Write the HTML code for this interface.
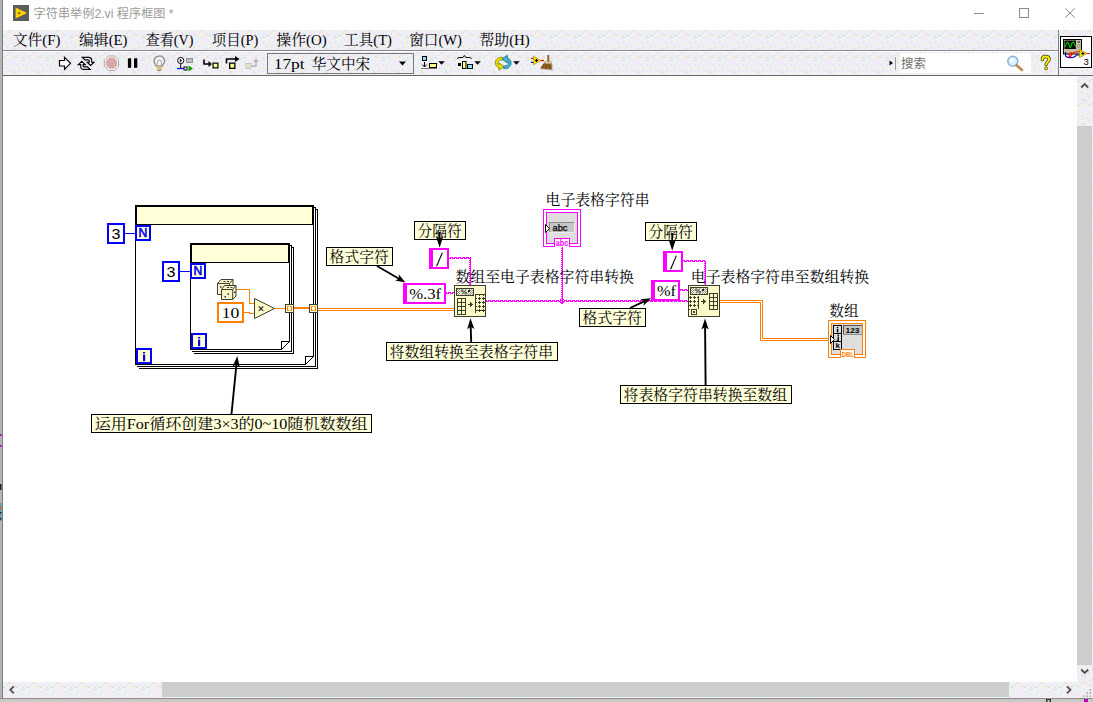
<!DOCTYPE html>
<html><head><meta charset="utf-8"><title>LabVIEW block diagram</title>
<style>
html,body{margin:0;padding:0;background:#fff;}
body{width:1093px;height:702px;position:relative;overflow:hidden;font-family:"Liberation Sans",sans-serif;}
div{position:absolute;box-sizing:border-box;}
#titlebar{left:0;top:0;width:1093px;height:30px;background:#fff;}
#menubar{left:3px;top:30px;width:1055px;height:20px;}
#sep1{left:3px;top:50px;width:1055px;height:1px;background:#8a8a8a;}
#sep1b{left:3px;top:51px;width:1055px;height:1px;background:#fff;}
#toolbar{left:3px;top:52px;width:1055px;height:23px;}
#iconpane{left:1059px;top:30px;width:34px;height:45px;}
#vsep{left:1058px;top:30px;width:1px;height:45px;background:#808080;}
#tbline{left:0;top:75px;width:1093px;height:1px;background:#686868;}
#canvas{left:3px;top:76px;width:1074px;height:606px;background:#fff;}
#lb0{left:0;top:0;width:2px;height:702px;background:#b4b4b4;}
#lb1{left:2px;top:0;width:1px;height:702px;background:#7c7c7c;}
#vscroll{left:1077px;top:76px;width:16px;height:605px;}
#vthumb{left:1077px;top:126px;width:15px;height:539px;background:#cdcdcd;}
#hscroll{left:3px;top:682px;width:1074px;height:16px;}
#hthumb{left:162px;top:682px;width:847px;height:15px;background:#cdcdcd;}
#corner{left:1077px;top:681px;width:16px;height:17px;}
#bot0{left:0;top:698px;width:1093px;height:1px;background:#8c8c8c;}
#bot1{left:0;top:699px;width:1093px;height:3px;background:#c8c8c8;}
.dz{background-color:#ececfb;}
svg#ov{position:absolute;left:0;top:0;}
svg.bg{position:absolute;left:0;top:0;width:100%;height:100%;}
</style></head><body>
<svg width="0" height="0" style="position:absolute"><defs>
<pattern id="dz" width="24" height="24" patternUnits="userSpaceOnUse"><rect width="24" height="24" fill="#ececfd"/><rect x="0" y="0" width="1" height="1" fill="#e8ffe8"/><rect x="1" y="0" width="1" height="1" fill="#ffe8e8"/><rect x="3" y="0" width="1" height="1" fill="#ffe8e8"/><rect x="5" y="0" width="1" height="1" fill="#d8d8d8"/><rect x="6" y="0" width="1" height="1" fill="#ffe8e8"/><rect x="8" y="0" width="1" height="1" fill="#ffe8e8"/><rect x="10" y="0" width="1" height="1" fill="#ffe8e8"/><rect x="11" y="0" width="1" height="1" fill="#ffe8e8"/><rect x="14" y="0" width="1" height="1" fill="#ffe8e8"/><rect x="15" y="0" width="1" height="1" fill="#e8ffe8"/><rect x="19" y="0" width="1" height="1" fill="#d8d8d8"/><rect x="21" y="0" width="1" height="1" fill="#ffe8e8"/><rect x="23" y="0" width="1" height="1" fill="#e8ffe8"/><rect x="0" y="1" width="1" height="1" fill="#ffe8e8"/><rect x="1" y="1" width="1" height="1" fill="#ffe8e8"/><rect x="2" y="1" width="1" height="1" fill="#e8ffe8"/><rect x="4" y="1" width="1" height="1" fill="#e8ffe8"/><rect x="7" y="1" width="1" height="1" fill="#d8d8d8"/><rect x="9" y="1" width="1" height="1" fill="#ffe8e8"/><rect x="10" y="1" width="1" height="1" fill="#ffe8e8"/><rect x="11" y="1" width="1" height="1" fill="#e8ffe8"/><rect x="14" y="1" width="1" height="1" fill="#e8ffe8"/><rect x="17" y="1" width="1" height="1" fill="#e8ffe8"/><rect x="20" y="1" width="1" height="1" fill="#e8ffe8"/><rect x="1" y="2" width="1" height="1" fill="#e8ffe8"/><rect x="3" y="2" width="1" height="1" fill="#ffe8e8"/><rect x="6" y="2" width="1" height="1" fill="#ffe8e8"/><rect x="8" y="2" width="1" height="1" fill="#ffe8e8"/><rect x="13" y="2" width="1" height="1" fill="#e8ffe8"/><rect x="22" y="2" width="1" height="1" fill="#ffe8e8"/><rect x="3" y="3" width="1" height="1" fill="#e8ffe8"/><rect x="4" y="3" width="1" height="1" fill="#d8d8d8"/><rect x="6" y="3" width="1" height="1" fill="#ffe8e8"/><rect x="8" y="3" width="1" height="1" fill="#ffe8e8"/><rect x="9" y="3" width="1" height="1" fill="#ffe8e8"/><rect x="10" y="3" width="1" height="1" fill="#ffe8e8"/><rect x="12" y="3" width="1" height="1" fill="#ffe8e8"/><rect x="13" y="3" width="1" height="1" fill="#e8ffe8"/><rect x="14" y="3" width="1" height="1" fill="#d8d8d8"/><rect x="16" y="3" width="1" height="1" fill="#ffe8e8"/><rect x="22" y="3" width="1" height="1" fill="#e8ffe8"/><rect x="0" y="4" width="1" height="1" fill="#e8ffe8"/><rect x="3" y="4" width="1" height="1" fill="#ffe8e8"/><rect x="4" y="4" width="1" height="1" fill="#e8ffe8"/><rect x="5" y="4" width="1" height="1" fill="#e8ffe8"/><rect x="6" y="4" width="1" height="1" fill="#e8ffe8"/><rect x="9" y="4" width="1" height="1" fill="#e8ffe8"/><rect x="10" y="4" width="1" height="1" fill="#ffe8e8"/><rect x="12" y="4" width="1" height="1" fill="#d8d8d8"/><rect x="19" y="4" width="1" height="1" fill="#ffe8e8"/><rect x="0" y="5" width="1" height="1" fill="#d8d8d8"/><rect x="1" y="5" width="1" height="1" fill="#d8d8d8"/><rect x="2" y="5" width="1" height="1" fill="#ffe8e8"/><rect x="4" y="5" width="1" height="1" fill="#ffe8e8"/><rect x="5" y="5" width="1" height="1" fill="#ffe8e8"/><rect x="6" y="5" width="1" height="1" fill="#e8ffe8"/><rect x="7" y="5" width="1" height="1" fill="#ffe8e8"/><rect x="8" y="5" width="1" height="1" fill="#e8ffe8"/><rect x="9" y="5" width="1" height="1" fill="#ffe8e8"/><rect x="10" y="5" width="1" height="1" fill="#ffe8e8"/><rect x="11" y="5" width="1" height="1" fill="#ffe8e8"/><rect x="12" y="5" width="1" height="1" fill="#ffe8e8"/><rect x="13" y="5" width="1" height="1" fill="#d8d8d8"/><rect x="14" y="5" width="1" height="1" fill="#ffe8e8"/><rect x="17" y="5" width="1" height="1" fill="#ffe8e8"/><rect x="18" y="5" width="1" height="1" fill="#e8ffe8"/><rect x="19" y="5" width="1" height="1" fill="#e8ffe8"/><rect x="20" y="5" width="1" height="1" fill="#d8d8d8"/><rect x="21" y="5" width="1" height="1" fill="#ffe8e8"/><rect x="2" y="6" width="1" height="1" fill="#ffe8e8"/><rect x="3" y="6" width="1" height="1" fill="#ffe8e8"/><rect x="4" y="6" width="1" height="1" fill="#e8ffe8"/><rect x="5" y="6" width="1" height="1" fill="#e8ffe8"/><rect x="7" y="6" width="1" height="1" fill="#ffe8e8"/><rect x="8" y="6" width="1" height="1" fill="#ffe8e8"/><rect x="11" y="6" width="1" height="1" fill="#ffe8e8"/><rect x="13" y="6" width="1" height="1" fill="#ffe8e8"/><rect x="18" y="6" width="1" height="1" fill="#e8ffe8"/><rect x="19" y="6" width="1" height="1" fill="#d8d8d8"/><rect x="20" y="6" width="1" height="1" fill="#ffe8e8"/><rect x="0" y="7" width="1" height="1" fill="#e8ffe8"/><rect x="1" y="7" width="1" height="1" fill="#e8ffe8"/><rect x="8" y="7" width="1" height="1" fill="#e8ffe8"/><rect x="10" y="7" width="1" height="1" fill="#e8ffe8"/><rect x="11" y="7" width="1" height="1" fill="#ffe8e8"/><rect x="12" y="7" width="1" height="1" fill="#ffe8e8"/><rect x="13" y="7" width="1" height="1" fill="#e8ffe8"/><rect x="14" y="7" width="1" height="1" fill="#e8ffe8"/><rect x="21" y="7" width="1" height="1" fill="#d8d8d8"/><rect x="22" y="7" width="1" height="1" fill="#e8ffe8"/><rect x="23" y="7" width="1" height="1" fill="#e8ffe8"/><rect x="0" y="8" width="1" height="1" fill="#e8ffe8"/><rect x="1" y="8" width="1" height="1" fill="#e8ffe8"/><rect x="8" y="8" width="1" height="1" fill="#ffe8e8"/><rect x="14" y="8" width="1" height="1" fill="#e8ffe8"/><rect x="16" y="8" width="1" height="1" fill="#e8ffe8"/><rect x="19" y="8" width="1" height="1" fill="#d8d8d8"/><rect x="23" y="8" width="1" height="1" fill="#e8ffe8"/><rect x="0" y="9" width="1" height="1" fill="#ffe8e8"/><rect x="1" y="9" width="1" height="1" fill="#ffe8e8"/><rect x="4" y="9" width="1" height="1" fill="#ffe8e8"/><rect x="8" y="9" width="1" height="1" fill="#e8ffe8"/><rect x="10" y="9" width="1" height="1" fill="#ffe8e8"/><rect x="11" y="9" width="1" height="1" fill="#ffe8e8"/><rect x="19" y="9" width="1" height="1" fill="#e8ffe8"/><rect x="20" y="9" width="1" height="1" fill="#e8ffe8"/><rect x="21" y="9" width="1" height="1" fill="#e8ffe8"/><rect x="22" y="9" width="1" height="1" fill="#e8ffe8"/><rect x="0" y="10" width="1" height="1" fill="#e8ffe8"/><rect x="2" y="10" width="1" height="1" fill="#ffe8e8"/><rect x="4" y="10" width="1" height="1" fill="#e8ffe8"/><rect x="13" y="10" width="1" height="1" fill="#ffe8e8"/><rect x="15" y="10" width="1" height="1" fill="#e8ffe8"/><rect x="16" y="10" width="1" height="1" fill="#ffe8e8"/><rect x="18" y="10" width="1" height="1" fill="#e8ffe8"/><rect x="22" y="10" width="1" height="1" fill="#e8ffe8"/><rect x="2" y="11" width="1" height="1" fill="#ffe8e8"/><rect x="4" y="11" width="1" height="1" fill="#e8ffe8"/><rect x="5" y="11" width="1" height="1" fill="#e8ffe8"/><rect x="23" y="11" width="1" height="1" fill="#e8ffe8"/><rect x="3" y="12" width="1" height="1" fill="#ffe8e8"/><rect x="4" y="12" width="1" height="1" fill="#ffe8e8"/><rect x="6" y="12" width="1" height="1" fill="#ffe8e8"/><rect x="7" y="12" width="1" height="1" fill="#e8ffe8"/><rect x="8" y="12" width="1" height="1" fill="#ffe8e8"/><rect x="12" y="12" width="1" height="1" fill="#ffe8e8"/><rect x="15" y="12" width="1" height="1" fill="#ffe8e8"/><rect x="18" y="12" width="1" height="1" fill="#e8ffe8"/><rect x="20" y="12" width="1" height="1" fill="#d8d8d8"/><rect x="0" y="13" width="1" height="1" fill="#ffe8e8"/><rect x="3" y="13" width="1" height="1" fill="#e8ffe8"/><rect x="4" y="13" width="1" height="1" fill="#e8ffe8"/><rect x="5" y="13" width="1" height="1" fill="#e8ffe8"/><rect x="7" y="13" width="1" height="1" fill="#ffe8e8"/><rect x="10" y="13" width="1" height="1" fill="#ffe8e8"/><rect x="11" y="13" width="1" height="1" fill="#e8ffe8"/><rect x="14" y="13" width="1" height="1" fill="#ffe8e8"/><rect x="18" y="13" width="1" height="1" fill="#ffe8e8"/><rect x="19" y="13" width="1" height="1" fill="#e8ffe8"/><rect x="20" y="13" width="1" height="1" fill="#ffe8e8"/><rect x="22" y="13" width="1" height="1" fill="#e8ffe8"/><rect x="23" y="13" width="1" height="1" fill="#ffe8e8"/><rect x="3" y="14" width="1" height="1" fill="#e8ffe8"/><rect x="4" y="14" width="1" height="1" fill="#ffe8e8"/><rect x="8" y="14" width="1" height="1" fill="#ffe8e8"/><rect x="9" y="14" width="1" height="1" fill="#ffe8e8"/><rect x="12" y="14" width="1" height="1" fill="#ffe8e8"/><rect x="16" y="14" width="1" height="1" fill="#ffe8e8"/><rect x="18" y="14" width="1" height="1" fill="#ffe8e8"/><rect x="21" y="14" width="1" height="1" fill="#e8ffe8"/><rect x="0" y="15" width="1" height="1" fill="#e8ffe8"/><rect x="1" y="15" width="1" height="1" fill="#ffe8e8"/><rect x="3" y="15" width="1" height="1" fill="#e8ffe8"/><rect x="4" y="15" width="1" height="1" fill="#ffe8e8"/><rect x="5" y="15" width="1" height="1" fill="#ffe8e8"/><rect x="6" y="15" width="1" height="1" fill="#ffe8e8"/><rect x="7" y="15" width="1" height="1" fill="#e8ffe8"/><rect x="8" y="15" width="1" height="1" fill="#e8ffe8"/><rect x="9" y="15" width="1" height="1" fill="#e8ffe8"/><rect x="11" y="15" width="1" height="1" fill="#e8ffe8"/><rect x="13" y="15" width="1" height="1" fill="#e8ffe8"/><rect x="14" y="15" width="1" height="1" fill="#e8ffe8"/><rect x="15" y="15" width="1" height="1" fill="#ffe8e8"/><rect x="16" y="15" width="1" height="1" fill="#e8ffe8"/><rect x="17" y="15" width="1" height="1" fill="#ffe8e8"/><rect x="20" y="15" width="1" height="1" fill="#e8ffe8"/><rect x="23" y="15" width="1" height="1" fill="#ffe8e8"/><rect x="4" y="16" width="1" height="1" fill="#d8d8d8"/><rect x="8" y="16" width="1" height="1" fill="#e8ffe8"/><rect x="13" y="16" width="1" height="1" fill="#e8ffe8"/><rect x="14" y="16" width="1" height="1" fill="#ffe8e8"/><rect x="15" y="16" width="1" height="1" fill="#ffe8e8"/><rect x="16" y="16" width="1" height="1" fill="#ffe8e8"/><rect x="18" y="16" width="1" height="1" fill="#e8ffe8"/><rect x="19" y="16" width="1" height="1" fill="#ffe8e8"/><rect x="20" y="16" width="1" height="1" fill="#ffe8e8"/><rect x="0" y="17" width="1" height="1" fill="#e8ffe8"/><rect x="1" y="17" width="1" height="1" fill="#e8ffe8"/><rect x="2" y="17" width="1" height="1" fill="#e8ffe8"/><rect x="4" y="17" width="1" height="1" fill="#ffe8e8"/><rect x="6" y="17" width="1" height="1" fill="#e8ffe8"/><rect x="10" y="17" width="1" height="1" fill="#e8ffe8"/><rect x="12" y="17" width="1" height="1" fill="#e8ffe8"/><rect x="13" y="17" width="1" height="1" fill="#e8ffe8"/><rect x="14" y="17" width="1" height="1" fill="#ffe8e8"/><rect x="15" y="17" width="1" height="1" fill="#d8d8d8"/><rect x="18" y="17" width="1" height="1" fill="#e8ffe8"/><rect x="20" y="17" width="1" height="1" fill="#ffe8e8"/><rect x="21" y="17" width="1" height="1" fill="#e8ffe8"/><rect x="22" y="17" width="1" height="1" fill="#ffe8e8"/><rect x="23" y="17" width="1" height="1" fill="#d8d8d8"/><rect x="0" y="18" width="1" height="1" fill="#ffe8e8"/><rect x="1" y="18" width="1" height="1" fill="#ffe8e8"/><rect x="2" y="18" width="1" height="1" fill="#e8ffe8"/><rect x="3" y="18" width="1" height="1" fill="#e8ffe8"/><rect x="10" y="18" width="1" height="1" fill="#d8d8d8"/><rect x="11" y="18" width="1" height="1" fill="#e8ffe8"/><rect x="13" y="18" width="1" height="1" fill="#ffe8e8"/><rect x="16" y="18" width="1" height="1" fill="#ffe8e8"/><rect x="22" y="18" width="1" height="1" fill="#ffe8e8"/><rect x="8" y="19" width="1" height="1" fill="#e8ffe8"/><rect x="9" y="19" width="1" height="1" fill="#ffe8e8"/><rect x="10" y="19" width="1" height="1" fill="#ffe8e8"/><rect x="11" y="19" width="1" height="1" fill="#d8d8d8"/><rect x="12" y="19" width="1" height="1" fill="#ffe8e8"/><rect x="19" y="19" width="1" height="1" fill="#ffe8e8"/><rect x="1" y="20" width="1" height="1" fill="#ffe8e8"/><rect x="3" y="20" width="1" height="1" fill="#e8ffe8"/><rect x="4" y="20" width="1" height="1" fill="#ffe8e8"/><rect x="5" y="20" width="1" height="1" fill="#e8ffe8"/><rect x="7" y="20" width="1" height="1" fill="#e8ffe8"/><rect x="11" y="20" width="1" height="1" fill="#d8d8d8"/><rect x="17" y="20" width="1" height="1" fill="#ffe8e8"/><rect x="18" y="20" width="1" height="1" fill="#ffe8e8"/><rect x="19" y="20" width="1" height="1" fill="#e8ffe8"/><rect x="21" y="20" width="1" height="1" fill="#e8ffe8"/><rect x="23" y="20" width="1" height="1" fill="#ffe8e8"/><rect x="0" y="21" width="1" height="1" fill="#ffe8e8"/><rect x="1" y="21" width="1" height="1" fill="#e8ffe8"/><rect x="5" y="21" width="1" height="1" fill="#e8ffe8"/><rect x="9" y="21" width="1" height="1" fill="#ffe8e8"/><rect x="11" y="21" width="1" height="1" fill="#e8ffe8"/><rect x="14" y="21" width="1" height="1" fill="#ffe8e8"/><rect x="19" y="21" width="1" height="1" fill="#e8ffe8"/><rect x="20" y="21" width="1" height="1" fill="#e8ffe8"/><rect x="22" y="21" width="1" height="1" fill="#e8ffe8"/><rect x="0" y="22" width="1" height="1" fill="#ffe8e8"/><rect x="3" y="22" width="1" height="1" fill="#ffe8e8"/><rect x="8" y="22" width="1" height="1" fill="#e8ffe8"/><rect x="11" y="22" width="1" height="1" fill="#ffe8e8"/><rect x="12" y="22" width="1" height="1" fill="#ffe8e8"/><rect x="15" y="22" width="1" height="1" fill="#e8ffe8"/><rect x="16" y="22" width="1" height="1" fill="#ffe8e8"/><rect x="17" y="22" width="1" height="1" fill="#e8ffe8"/><rect x="18" y="22" width="1" height="1" fill="#e8ffe8"/><rect x="20" y="22" width="1" height="1" fill="#ffe8e8"/><rect x="23" y="22" width="1" height="1" fill="#ffe8e8"/><rect x="3" y="23" width="1" height="1" fill="#e8ffe8"/><rect x="4" y="23" width="1" height="1" fill="#d8d8d8"/><rect x="5" y="23" width="1" height="1" fill="#d8d8d8"/><rect x="8" y="23" width="1" height="1" fill="#d8d8d8"/><rect x="10" y="23" width="1" height="1" fill="#e8ffe8"/><rect x="11" y="23" width="1" height="1" fill="#ffe8e8"/><rect x="12" y="23" width="1" height="1" fill="#ffe8e8"/><rect x="14" y="23" width="1" height="1" fill="#e8ffe8"/><rect x="16" y="23" width="1" height="1" fill="#e8ffe8"/><rect x="17" y="23" width="1" height="1" fill="#e8ffe8"/><rect x="19" y="23" width="1" height="1" fill="#e8ffe8"/><rect x="20" y="23" width="1" height="1" fill="#d8d8d8"/></pattern>
</defs></svg>
<div id="titlebar"></div>
<div id="menubar"><svg class="bg" shape-rendering="crispEdges"><rect width="100%" height="100%" fill="url(#dz)"/></svg></div>
<div id="sep1"></div><div id="sep1b"></div>
<div id="toolbar"><svg class="bg" shape-rendering="crispEdges"><rect width="100%" height="100%" fill="url(#dz)"/></svg></div>
<div id="iconpane"><svg class="bg" shape-rendering="crispEdges"><rect width="100%" height="100%" fill="url(#dz)"/></svg></div>
<div id="vsep"></div>
<div id="tbline"></div>
<div id="canvas"></div>
<div id="vscroll"><svg class="bg" shape-rendering="crispEdges"><rect width="100%" height="100%" fill="url(#dz)"/></svg></div>
<div id="vthumb"></div>
<div id="hscroll"><svg class="bg" shape-rendering="crispEdges"><rect width="100%" height="100%" fill="url(#dz)"/></svg></div>
<div id="hthumb"></div>
<div id="corner"><svg class="bg" shape-rendering="crispEdges"><rect width="100%" height="100%" fill="url(#dz)"/></svg></div>
<div id="lb0"></div><div id="lb1"></div>
<div id="bot0"></div><div id="bot1"></div>
<svg id="ov" width="1093" height="702" viewBox="0 0 1093 702">
<rect x="13" y="5" width="16" height="16" fill="#5c5c5c"/>
<path d="M15.600 7.600L27 13 15.600 18.400Z" fill="#ffd400"/>
<path d="M17.700 13h3M19.200 11.500v3" stroke="#6b5a00" stroke-width="0.9" fill="none"/>
<text x="33.6" y="17.6" font-family="'Liberation Sans','Noto Sans CJK SC',sans-serif" font-size="12" fill="#9a9a9a" textLength="140" lengthAdjust="spacingAndGlyphs" xml:space="preserve">字符串举例2.vi 程序框图 *</text>
<line x1="974" y1="13.5" x2="984" y2="13.5" stroke="#8c8c8c" stroke-width="1"/>
<rect x="1019.5" y="8.5" width="9" height="9" fill="none" stroke="#8c8c8c" stroke-width="1"/>
<path d="M1065.3 8.3 L1074.7 17.7 M1074.7 8.3 L1065.3 17.7" stroke="#8c8c8c" stroke-width="1" fill="none"/>
<g font-family="'Liberation Serif','Noto Serif CJK SC',serif" font-size="15" fill="#000">
<text x="12.8" y="44.6" textLength="47.5" lengthAdjust="spacingAndGlyphs">文件(F)</text>
<text x="79.1" y="44.6" textLength="48.4" lengthAdjust="spacingAndGlyphs">编辑(E)</text>
<text x="145.7" y="44.6" textLength="47.7" lengthAdjust="spacingAndGlyphs">查看(V)</text>
<text x="211.8" y="44.6" textLength="46.5" lengthAdjust="spacingAndGlyphs">项目(P)</text>
<text x="276.3" y="44.6" textLength="50.5" lengthAdjust="spacingAndGlyphs">操作(O)</text>
<text x="344.1" y="44.6" textLength="47.9" lengthAdjust="spacingAndGlyphs">工具(T)</text>
<text x="409.3" y="44.6" textLength="52.6" lengthAdjust="spacingAndGlyphs">窗口(W)</text>
<text x="479.4" y="44.6" textLength="50.4" lengthAdjust="spacingAndGlyphs">帮助(H)</text>
</g>
<path d="M59.5 60.5h5v-3.2l6 6-6 6v-3.3h-5z" fill="#fff" stroke="#000" stroke-width="1.15" stroke-linejoin="miter"/>
<g fill="#fff" stroke="#000" stroke-width="1.15" stroke-linejoin="miter"><path d="M82.3 57.4h6.2q3.2 0 3.200 3.200v1.600h2.300l-3.400 3.300-3.400-3.300h2.100v-1.300q0-1-1-1h-3.300z"/><path d="M90.100 69.400h-6.200q-3.200 0-3.200-3.200v-1.600h-2.300l3.400-3.300 3.400 3.300h-2.100v1.300q0 1 1 1h3.300z"/></g>
<path d="M108.5 56h6l4 4.2v6l-4 4.3h-6l-4.2-4.3v-6z" fill="#fafafa" stroke="#a8a8a0" stroke-width="1"/>
<path d="M109.2 57.6h4.6l3.3 3.3v4.6l-3.3 3.3h-4.6l-3.3-3.3v-4.6z" fill="#d9a9a9"/>
<rect x="127.9" y="58.3" width="3.3" height="9.5" fill="#000"/>
<rect x="134" y="58.3" width="3.3" height="9.5" fill="#000"/>
<path d="M159.3 56c-3.2 0-5.3 2.4-5.3 5 0 2.2 1.6 3.4 2.4 5.2h5.8c.8-1.8 2.4-3 2.4-5.2 0-2.6-2.1-5-5.3-5z" fill="#f2f2f2" stroke="#868686" stroke-width="1.250"/>
<path d="M157.200 65.500v-3.300q0-2 2.100-2t2.100 2v3.300" fill="none" stroke="#a4a4a4" stroke-width="1"/>
<rect x="156.6" y="66.4" width="5.4" height="1.3" fill="#d9b95a"/>
<rect x="156.6" y="68.1" width="5.4" height="1.3" fill="#d9b95a"/>
<rect x="157.6" y="69.7" width="3.4" height="1.2" fill="#8a7a3a"/>
<circle cx="180.7" cy="60.5" r="3.1" fill="#fff" stroke="#000" stroke-width="1"/>
<path d="M179.8 58.8v3.4l2.4-1.7z" fill="#000"/>
<line x1="180.7" y1="63.5" x2="180.7" y2="68.5" stroke="#000" stroke-width="1"/>
<rect x="186.5" y="58.5" width="6" height="4" fill="#c0c0c0" stroke="#909090" stroke-width="1"/>
<line x1="177" y1="68.5" x2="184" y2="68.5" stroke="#0000ff" stroke-width="1.2"/>
<rect x="184" y="67" width="3" height="3" fill="#fff" stroke="#000" stroke-width="1"/>
<path d="M188.5 65.5v6l4.5-3z" fill="#00a000"/>
<path d="M204 59.5v4.5h6.5" fill="none" stroke="#000" stroke-width="1.6"/>
<path d="M208.5 61l3.5 3-3.5 3z" fill="#000"/>
<rect x="213.1" y="63.1" width="4.8" height="4.8" fill="#ffff80" stroke="#000" stroke-width="1.2"/>
<path d="M226.5 63.5v-4.5h9.5" fill="none" stroke="#000" stroke-width="1.6"/>
<path d="M235 56l4.5 3-4.5 3z" fill="#000"/>
<rect x="229.65" y="63.15" width="5.2" height="5.2" fill="#ffff80" stroke="#000" stroke-width="1.3"/>
<rect x="246" y="63.5" width="5" height="5" fill="#e4e4c8" stroke="#c8c8b4" stroke-width="1"/>
<path d="M251.5 66h4.500v-5" fill="none" stroke="#b4b4b4" stroke-width="1.4"/>
<path d="M253 62l3-3.5 3 3.5z" fill="#b4b4b4"/>
<rect x="267.5" y="53.5" width="146" height="20" fill="none" stroke="#7a7a7a" stroke-width="1"/>
<text x="273.7" y="68.8" font-family="'Liberation Serif','Noto Serif CJK SC',serif" font-size="14.5" fill="#000" textLength="31" lengthAdjust="spacingAndGlyphs">17pt</text>
<text x="311.7" y="69.2" font-family="'Liberation Serif','Noto Serif CJK SC',serif" font-size="15" fill="#000" textLength="58.5" lengthAdjust="spacingAndGlyphs">华文中宋</text>
<path d="M399 61.5h7l-3.500 4z" fill="#000"/>
<rect x="422.5" y="56.5" width="4" height="4" fill="#80e4f4" stroke="#000" stroke-width="1"/>
<line x1="424.5" y1="62" x2="424.5" y2="67" stroke="#000" stroke-width="1"/>
<path d="M422.3 64.6l2.2 2.400 2.200-2.400" fill="none" stroke="#000" stroke-width="1"/>
<line x1="421.5" y1="68.5" x2="437" y2="68.5" stroke="#000" stroke-width="1" stroke-dasharray="1 1"/>
<rect x="429.5" y="63.5" width="7" height="4" fill="#ffff80" stroke="#000" stroke-width="1"/>
<path d="M438.3 61.200h6.500l-3.250 3.600z" fill="#000"/>
<path d="M457.300 58.800q.3-1.300 2.200-1.300h3.500l1.400-2 1.400 2h3.500q1.900 0 2.200 1.300" fill="none" stroke="#000" stroke-width="1"/>
<rect x="458" y="63" width="3" height="3" fill="#000"/>
<rect x="462.5" y="61.5" width="3.5" height="7" fill="#ffff80" stroke="#000" stroke-width="1"/>
<rect x="467.5" y="64.5" width="5" height="4" fill="#80e4f4" stroke="#000" stroke-width="1"/>
<path d="M474.300 61.200h6.500l-3.250 3.600z" fill="#000"/>
<path d="M502.800 57.300c-4.600-.6-7.500 2.200-7.500 5.600 0 2.400 1.600 4.200 3.800 4.900v2.500l4.800-3.800-4.800-3.600v2.200c-.9-.4-1.300-1.200-1.300-2.200 0-1.900 1.800-3 5-3.100z" fill="#e6e000" stroke="#8c8800" stroke-width=".9" stroke-linejoin="round"/>
<path d="M503.600 68.600c4.600.6 7.500-2.200 7.500-5.600 0-2.400-1.600-4.200-3.800-4.900v-3l-5.300 4 5.300 3.900v-2.200c.9.4 1.300 1.200 1.300 2.200 0 1.900-1.800 3-5 3.100z" fill="#48b4d0" stroke="#1c7c98" stroke-width=".9" stroke-linejoin="round"/>
<path d="M513.200 61.200h6.500l-3.250 3.600z" fill="#000"/>
<line x1="531" y1="58.5" x2="534" y2="58.5" stroke="#f00000" stroke-width="1.2"/>
<line x1="531" y1="62.4" x2="534" y2="62.4" stroke="#0000f0" stroke-width="1.2"/>
<path d="M533.500 56.200l7.700 4.300-7.700 4.300z" fill="#f4e000" stroke="#b09000" stroke-width=".7"/>
<path d="M535 60.500h3M536.500 59v3" stroke="#000" stroke-width="1.100"/>
<line x1="541" y1="60.5" x2="544" y2="60.5" stroke="#f00000" stroke-width="1.2"/>
<path d="M546.500 62.800l6.300 1.200v6.800l-12-1.300z" fill="#b8b8b8" opacity=".8"/>
<rect x="547.3" y="55" width="2" height="7" fill="#9a6420"/>
<path d="M545 61.600h6.500l.4 7.800-11.900-.8z" fill="#946026"/>
<path d="M545.300 61.800h6l.1 1.600h-6.800z" fill="#d8d0c0"/>
<path d="M541.500 68l2.500-3.500M545.500 68.500l1.500-4M549.500 69v-4" stroke="#5c3810" stroke-width=".8" fill="none"/>
<path d="M889.500 60.500v5l3.500-2.500z" fill="#000"/>
<rect x="895" y="57" width="1" height="13" fill="#9a9a9a"/>
<rect x="900" y="53" width="131" height="20" fill="#fff"/>
<text x="901.1" y="68" font-family="'Liberation Sans','Noto Sans CJK SC',sans-serif" font-size="12.5" fill="#6e6e6e" textLength="25" lengthAdjust="spacingAndGlyphs">搜索</text>
<circle cx="1012.800" cy="61.300" r="5" fill="#dceefa" stroke="#8cb4d8" stroke-width="1.500"/>
<circle cx="1011.800" cy="60.200" r="2.300" fill="#fff" opacity=".8"/>
<line x1="1016.6" y1="65.2" x2="1022" y2="70" stroke="#c08a50" stroke-width="2.6" stroke-linecap="round"/>
<path d="M1042.300 59.800c0-2.200 1.400-3.300 3.300-3.300 2 0 3.500 1.100 3.500 2.900 0 2.300-3 2.600-3 5.200" fill="none" stroke="#3c3c00" stroke-width="3.300" stroke-linecap="round"/>
<path d="M1042.300 59.800c0-2.200 1.400-3.300 3.300-3.300 2 0 3.500 1.100 3.500 2.900 0 2.300-3 2.600-3 5.200" fill="none" stroke="#fff000" stroke-width="1.900" stroke-linecap="round"/>
<circle cx="1046.100" cy="68.300" r="1.500" fill="#fff000" stroke="#3c3c00" stroke-width=".7"/>
<rect x="1060.5" y="36.5" width="31" height="31" fill="#fff" stroke="#000" stroke-width="1"/>
<rect x="1063.5" y="39.5" width="18" height="14.5" fill="#c8c0a0" stroke="#000" stroke-width="1"/>
<rect x="1064.5" y="40.5" width="11.5" height="8.5" fill="#000"/>
<path d="M1065.400 47Q1067.300 38.500 1069.200 45.500Q1070.200 49.500 1071.400 45Q1073.200 38.500 1075.600 47" fill="none" stroke="#00d000" stroke-width="1.100"/>
<circle cx="1078.800" cy="46" r="1.300" fill="#f0d8a8" stroke="#666" stroke-width=".6"/>
<rect x="1077.6" y="41" width="2.4" height="2" fill="#666"/>
<path d="M1065.500 52v3c0 3.500 9 3.500 11 0h3.500" fill="none" stroke="#0000c0" stroke-width="1.200"/>
<path d="M1069 56.500c0-3 2-4.500 2.800-3 .8 2-2.800 4.500-2.800 3zM1072 54c1.500-2 3-2.500 8-2.500" fill="none" stroke="#ff0000" stroke-width="1.200"/>
<path d="M1079.500 49.500l7.500 4-7.500 4z" fill="#f0e000" stroke="#a09000" stroke-width=".7"/>
<path d="M1081.300 53.500h3M1082.800 52v3" stroke="#000" stroke-width="1"/>
<line x1="1087" y1="53.5" x2="1090" y2="53.5" stroke="#ff0000" stroke-width="1"/>
<text x="1083.600" y="65" font-family="Liberation Sans, sans-serif" font-size="9.500" fill="#000">3</text>
<g shape-rendering="crispEdges">
<rect x="318" y="308" width="136" height="1" fill="#ff8000"/><rect x="318" y="309" width="136" height="1" fill="#fff"/><rect x="318" y="310" width="136" height="1" fill="#ff8000"/>
<rect x="720" y="300" width="43" height="1" fill="#ff8000"/><rect x="762" y="300" width="1" height="39" fill="#ff8000"/><rect x="762" y="338" width="69" height="1" fill="#ff8000"/>
<rect x="720" y="302" width="41" height="1" fill="#ff8000"/><rect x="760" y="302" width="1" height="39" fill="#ff8000"/><rect x="760" y="340" width="71" height="1" fill="#ff8000"/>
<rect x="720" y="301" width="42" height="1" fill="#fff"/><rect x="761" y="301" width="1" height="39" fill="#fff"/><rect x="761" y="339" width="70" height="1" fill="#fff"/>
<rect x="450" y="257" width="3" height="1" fill="#ff00ff"/><rect x="454" y="257" width="3" height="1" fill="#ff00ff"/><rect x="458" y="257" width="3" height="1" fill="#ff00ff"/><rect x="462" y="257" width="3" height="1" fill="#ff00ff"/><rect x="466" y="257" width="3" height="1" fill="#ff00ff"/><rect x="470" y="257" width="1" height="1" fill="#ff00ff"/><rect x="449" y="258" width="2" height="1" fill="#ff00ff"/><rect x="452" y="258" width="3" height="1" fill="#ff00ff"/><rect x="456" y="258" width="3" height="1" fill="#ff00ff"/><rect x="460" y="258" width="3" height="1" fill="#ff00ff"/><rect x="464" y="258" width="3" height="1" fill="#ff00ff"/><rect x="468" y="258" width="3" height="1" fill="#ff00ff"/>
<rect x="470" y="258" width="1" height="27" fill="#ff00ff"/><rect x="469" y="258" width="1" height="1" fill="#ff00ff"/><rect x="469" y="260" width="1" height="1" fill="#ff00ff"/><rect x="469" y="262" width="1" height="1" fill="#ff00ff"/><rect x="469" y="264" width="1" height="1" fill="#ff00ff"/><rect x="469" y="266" width="1" height="1" fill="#ff00ff"/><rect x="469" y="268" width="1" height="1" fill="#ff00ff"/><rect x="469" y="270" width="1" height="1" fill="#ff00ff"/><rect x="469" y="272" width="1" height="1" fill="#ff00ff"/><rect x="469" y="274" width="1" height="1" fill="#ff00ff"/><rect x="469" y="276" width="1" height="1" fill="#ff00ff"/><rect x="469" y="278" width="1" height="1" fill="#ff00ff"/><rect x="469" y="280" width="1" height="1" fill="#ff00ff"/><rect x="469" y="282" width="1" height="1" fill="#ff00ff"/><rect x="469" y="284" width="1" height="1" fill="#ff00ff"/>
<rect x="446" y="292" width="1" height="1" fill="#ff00ff"/><rect x="448" y="292" width="3" height="1" fill="#ff00ff"/><rect x="452" y="292" width="2" height="1" fill="#ff00ff"/><rect x="446" y="293" width="3" height="1" fill="#ff00ff"/><rect x="450" y="293" width="3" height="1" fill="#ff00ff"/>
<rect x="486" y="300" width="1" height="1" fill="#ff00ff"/><rect x="488" y="300" width="3" height="1" fill="#ff00ff"/><rect x="492" y="300" width="3" height="1" fill="#ff00ff"/><rect x="496" y="300" width="3" height="1" fill="#ff00ff"/><rect x="500" y="300" width="3" height="1" fill="#ff00ff"/><rect x="504" y="300" width="3" height="1" fill="#ff00ff"/><rect x="508" y="300" width="3" height="1" fill="#ff00ff"/><rect x="512" y="300" width="3" height="1" fill="#ff00ff"/><rect x="516" y="300" width="3" height="1" fill="#ff00ff"/><rect x="520" y="300" width="3" height="1" fill="#ff00ff"/><rect x="524" y="300" width="3" height="1" fill="#ff00ff"/><rect x="528" y="300" width="3" height="1" fill="#ff00ff"/><rect x="532" y="300" width="3" height="1" fill="#ff00ff"/><rect x="536" y="300" width="3" height="1" fill="#ff00ff"/><rect x="540" y="300" width="3" height="1" fill="#ff00ff"/><rect x="544" y="300" width="3" height="1" fill="#ff00ff"/><rect x="548" y="300" width="3" height="1" fill="#ff00ff"/><rect x="552" y="300" width="3" height="1" fill="#ff00ff"/><rect x="556" y="300" width="3" height="1" fill="#ff00ff"/><rect x="560" y="300" width="3" height="1" fill="#ff00ff"/><rect x="564" y="300" width="3" height="1" fill="#ff00ff"/><rect x="568" y="300" width="3" height="1" fill="#ff00ff"/><rect x="572" y="300" width="3" height="1" fill="#ff00ff"/><rect x="576" y="300" width="3" height="1" fill="#ff00ff"/><rect x="580" y="300" width="3" height="1" fill="#ff00ff"/><rect x="584" y="300" width="3" height="1" fill="#ff00ff"/><rect x="588" y="300" width="3" height="1" fill="#ff00ff"/><rect x="592" y="300" width="3" height="1" fill="#ff00ff"/><rect x="596" y="300" width="3" height="1" fill="#ff00ff"/><rect x="600" y="300" width="3" height="1" fill="#ff00ff"/><rect x="604" y="300" width="3" height="1" fill="#ff00ff"/><rect x="608" y="300" width="3" height="1" fill="#ff00ff"/><rect x="612" y="300" width="3" height="1" fill="#ff00ff"/><rect x="616" y="300" width="3" height="1" fill="#ff00ff"/><rect x="620" y="300" width="3" height="1" fill="#ff00ff"/><rect x="624" y="300" width="3" height="1" fill="#ff00ff"/><rect x="628" y="300" width="3" height="1" fill="#ff00ff"/><rect x="632" y="300" width="3" height="1" fill="#ff00ff"/><rect x="636" y="300" width="3" height="1" fill="#ff00ff"/><rect x="640" y="300" width="3" height="1" fill="#ff00ff"/><rect x="644" y="300" width="3" height="1" fill="#ff00ff"/><rect x="648" y="300" width="3" height="1" fill="#ff00ff"/><rect x="652" y="300" width="3" height="1" fill="#ff00ff"/><rect x="656" y="300" width="3" height="1" fill="#ff00ff"/><rect x="660" y="300" width="3" height="1" fill="#ff00ff"/><rect x="664" y="300" width="3" height="1" fill="#ff00ff"/><rect x="668" y="300" width="3" height="1" fill="#ff00ff"/><rect x="672" y="300" width="3" height="1" fill="#ff00ff"/><rect x="676" y="300" width="3" height="1" fill="#ff00ff"/><rect x="680" y="300" width="3" height="1" fill="#ff00ff"/><rect x="684" y="300" width="3" height="1" fill="#ff00ff"/><rect x="486" y="301" width="3" height="1" fill="#ff00ff"/><rect x="490" y="301" width="3" height="1" fill="#ff00ff"/><rect x="494" y="301" width="3" height="1" fill="#ff00ff"/><rect x="498" y="301" width="3" height="1" fill="#ff00ff"/><rect x="502" y="301" width="3" height="1" fill="#ff00ff"/><rect x="506" y="301" width="3" height="1" fill="#ff00ff"/><rect x="510" y="301" width="3" height="1" fill="#ff00ff"/><rect x="514" y="301" width="3" height="1" fill="#ff00ff"/><rect x="518" y="301" width="3" height="1" fill="#ff00ff"/><rect x="522" y="301" width="3" height="1" fill="#ff00ff"/><rect x="526" y="301" width="3" height="1" fill="#ff00ff"/><rect x="530" y="301" width="3" height="1" fill="#ff00ff"/><rect x="534" y="301" width="3" height="1" fill="#ff00ff"/><rect x="538" y="301" width="3" height="1" fill="#ff00ff"/><rect x="542" y="301" width="3" height="1" fill="#ff00ff"/><rect x="546" y="301" width="3" height="1" fill="#ff00ff"/><rect x="550" y="301" width="3" height="1" fill="#ff00ff"/><rect x="554" y="301" width="3" height="1" fill="#ff00ff"/><rect x="558" y="301" width="3" height="1" fill="#ff00ff"/><rect x="562" y="301" width="3" height="1" fill="#ff00ff"/><rect x="566" y="301" width="3" height="1" fill="#ff00ff"/><rect x="570" y="301" width="3" height="1" fill="#ff00ff"/><rect x="574" y="301" width="3" height="1" fill="#ff00ff"/><rect x="578" y="301" width="3" height="1" fill="#ff00ff"/><rect x="582" y="301" width="3" height="1" fill="#ff00ff"/><rect x="586" y="301" width="3" height="1" fill="#ff00ff"/><rect x="590" y="301" width="3" height="1" fill="#ff00ff"/><rect x="594" y="301" width="3" height="1" fill="#ff00ff"/><rect x="598" y="301" width="3" height="1" fill="#ff00ff"/><rect x="602" y="301" width="3" height="1" fill="#ff00ff"/><rect x="606" y="301" width="3" height="1" fill="#ff00ff"/><rect x="610" y="301" width="3" height="1" fill="#ff00ff"/><rect x="614" y="301" width="3" height="1" fill="#ff00ff"/><rect x="618" y="301" width="3" height="1" fill="#ff00ff"/><rect x="622" y="301" width="3" height="1" fill="#ff00ff"/><rect x="626" y="301" width="3" height="1" fill="#ff00ff"/><rect x="630" y="301" width="3" height="1" fill="#ff00ff"/><rect x="634" y="301" width="3" height="1" fill="#ff00ff"/><rect x="638" y="301" width="3" height="1" fill="#ff00ff"/><rect x="642" y="301" width="3" height="1" fill="#ff00ff"/><rect x="646" y="301" width="3" height="1" fill="#ff00ff"/><rect x="650" y="301" width="3" height="1" fill="#ff00ff"/><rect x="654" y="301" width="3" height="1" fill="#ff00ff"/><rect x="658" y="301" width="3" height="1" fill="#ff00ff"/><rect x="662" y="301" width="3" height="1" fill="#ff00ff"/><rect x="666" y="301" width="3" height="1" fill="#ff00ff"/><rect x="670" y="301" width="3" height="1" fill="#ff00ff"/><rect x="674" y="301" width="3" height="1" fill="#ff00ff"/><rect x="678" y="301" width="3" height="1" fill="#ff00ff"/><rect x="682" y="301" width="3" height="1" fill="#ff00ff"/><rect x="686" y="301" width="2" height="1" fill="#ff00ff"/>
<rect x="562" y="247" width="1" height="53" fill="#ff00ff"/><rect x="561" y="248" width="1" height="1" fill="#ff00ff"/><rect x="561" y="250" width="1" height="1" fill="#ff00ff"/><rect x="561" y="252" width="1" height="1" fill="#ff00ff"/><rect x="561" y="254" width="1" height="1" fill="#ff00ff"/><rect x="561" y="256" width="1" height="1" fill="#ff00ff"/><rect x="561" y="258" width="1" height="1" fill="#ff00ff"/><rect x="561" y="260" width="1" height="1" fill="#ff00ff"/><rect x="561" y="262" width="1" height="1" fill="#ff00ff"/><rect x="561" y="264" width="1" height="1" fill="#ff00ff"/><rect x="561" y="266" width="1" height="1" fill="#ff00ff"/><rect x="561" y="268" width="1" height="1" fill="#ff00ff"/><rect x="561" y="270" width="1" height="1" fill="#ff00ff"/><rect x="561" y="272" width="1" height="1" fill="#ff00ff"/><rect x="561" y="274" width="1" height="1" fill="#ff00ff"/><rect x="561" y="276" width="1" height="1" fill="#ff00ff"/><rect x="561" y="278" width="1" height="1" fill="#ff00ff"/><rect x="561" y="280" width="1" height="1" fill="#ff00ff"/><rect x="561" y="282" width="1" height="1" fill="#ff00ff"/><rect x="561" y="284" width="1" height="1" fill="#ff00ff"/><rect x="561" y="286" width="1" height="1" fill="#ff00ff"/><rect x="561" y="288" width="1" height="1" fill="#ff00ff"/><rect x="561" y="290" width="1" height="1" fill="#ff00ff"/><rect x="561" y="292" width="1" height="1" fill="#ff00ff"/><rect x="561" y="294" width="1" height="1" fill="#ff00ff"/><rect x="561" y="296" width="1" height="1" fill="#ff00ff"/><rect x="561" y="298" width="1" height="1" fill="#ff00ff"/>
<rect x="560" y="299" width="4" height="4" fill="#ff00ff"/><rect x="561" y="303" width="2" height="1" fill="#ff00ff"/>
<rect x="561" y="299" width="1" height="1" fill="#fff"/><rect x="563" y="300" width="1" height="1" fill="#fff"/><rect x="561" y="301" width="1" height="1" fill="#fff"/>
<rect x="683" y="260" width="2" height="1" fill="#ff00ff"/><rect x="686" y="260" width="3" height="1" fill="#ff00ff"/><rect x="690" y="260" width="3" height="1" fill="#ff00ff"/><rect x="694" y="260" width="3" height="1" fill="#ff00ff"/><rect x="698" y="260" width="3" height="1" fill="#ff00ff"/><rect x="702" y="260" width="3" height="1" fill="#ff00ff"/><rect x="684" y="261" width="3" height="1" fill="#ff00ff"/><rect x="688" y="261" width="3" height="1" fill="#ff00ff"/><rect x="692" y="261" width="3" height="1" fill="#ff00ff"/><rect x="696" y="261" width="3" height="1" fill="#ff00ff"/><rect x="700" y="261" width="3" height="1" fill="#ff00ff"/><rect x="704" y="261" width="2" height="1" fill="#ff00ff"/>
<rect x="705" y="261" width="1" height="24" fill="#ff00ff"/><rect x="704" y="261" width="1" height="1" fill="#ff00ff"/><rect x="704" y="263" width="1" height="1" fill="#ff00ff"/><rect x="704" y="265" width="1" height="1" fill="#ff00ff"/><rect x="704" y="267" width="1" height="1" fill="#ff00ff"/><rect x="704" y="269" width="1" height="1" fill="#ff00ff"/><rect x="704" y="271" width="1" height="1" fill="#ff00ff"/><rect x="704" y="273" width="1" height="1" fill="#ff00ff"/><rect x="704" y="275" width="1" height="1" fill="#ff00ff"/><rect x="704" y="277" width="1" height="1" fill="#ff00ff"/><rect x="704" y="279" width="1" height="1" fill="#ff00ff"/><rect x="704" y="281" width="1" height="1" fill="#ff00ff"/><rect x="704" y="283" width="1" height="1" fill="#ff00ff"/>
<rect x="680" y="289" width="3" height="1" fill="#ff00ff"/><rect x="684" y="289" width="3" height="1" fill="#ff00ff"/><rect x="680" y="290" width="1" height="1" fill="#ff00ff"/><rect x="682" y="290" width="3" height="1" fill="#ff00ff"/><rect x="686" y="290" width="2" height="1" fill="#ff00ff"/>
<rect x="317" y="209" width="1" height="160" fill="#000"/><rect x="139" y="368" width="179" height="1" fill="#000"/><rect x="316" y="209" width="2" height="1" fill="#000"/><rect x="315" y="207" width="1" height="160" fill="#000"/><rect x="137" y="366" width="179" height="1" fill="#000"/><rect x="314" y="207" width="2" height="1" fill="#000"/><rect x="135" y="205" width="179" height="160" fill="#fff"/><rect x="135" y="205" width="179" height="20" fill="#ffffd8"/><rect x="135" y="205" width="179" height="2" fill="#000"/><rect x="135" y="205" width="2" height="20" fill="#000"/><rect x="135" y="205" width="1" height="160" fill="#000"/><rect x="312" y="205" width="2" height="20" fill="#000"/><rect x="135" y="224" width="179" height="1" fill="#000"/><rect x="313" y="205" width="1" height="152" fill="#000"/><rect x="135" y="364" width="171" height="1" fill="#000"/><rect x="305" y="356" width="9" height="1" fill="#000"/><rect x="305" y="356" width="1" height="9" fill="#000"/></g><line x1="313.5" y1="356.5" x2="305.5" y2="364.5" stroke="#000" stroke-width="1"/><g shape-rendering="crispEdges">
<rect x="293" y="247" width="1" height="107" fill="#000"/><rect x="194" y="353" width="100" height="1" fill="#000"/><rect x="292" y="247" width="2" height="1" fill="#000"/><rect x="291" y="245" width="1" height="107" fill="#000"/><rect x="192" y="351" width="100" height="1" fill="#000"/><rect x="290" y="245" width="2" height="1" fill="#000"/><rect x="190" y="243" width="100" height="107" fill="#fff"/><rect x="190" y="243" width="100" height="20" fill="#ffffd8"/><rect x="190" y="243" width="100" height="2" fill="#000"/><rect x="190" y="243" width="2" height="20" fill="#000"/><rect x="190" y="243" width="1" height="107" fill="#000"/><rect x="288" y="243" width="2" height="20" fill="#000"/><rect x="190" y="262" width="100" height="1" fill="#000"/><rect x="289" y="243" width="1" height="99" fill="#000"/><rect x="190" y="349" width="92" height="1" fill="#000"/><rect x="281" y="341" width="9" height="1" fill="#000"/><rect x="281" y="341" width="1" height="9" fill="#000"/></g><line x1="289.5" y1="341.5" x2="281.5" y2="349.5" stroke="#000" stroke-width="1"/><g shape-rendering="crispEdges">
<rect x="108" y="224" width="16" height="19" fill="#fff" stroke="#0000ff" stroke-width="2"/>
<rect x="125" y="233" width="10" height="1" fill="#0000ff"/>
<rect x="136" y="226" width="14" height="14" fill="#ffffd0" stroke="#0000ff" stroke-width="2"/>
<rect x="137" y="349" width="14" height="14" fill="#ffffd0" stroke="#0000ff" stroke-width="2"/>
<rect x="163" y="262" width="16" height="19" fill="#fff" stroke="#0000ff" stroke-width="2"/>
<rect x="180" y="271" width="10" height="1" fill="#0000ff"/>
<rect x="191" y="264" width="14" height="14" fill="#ffffd0" stroke="#0000ff" stroke-width="2"/>
<rect x="192" y="334" width="14" height="14" fill="#ffffd0" stroke="#0000ff" stroke-width="2"/>
<rect x="236" y="289" width="14" height="1" fill="#ff8000"/>
<rect x="249" y="289" width="1" height="15" fill="#ff8000"/>
<rect x="249" y="303" width="6" height="1" fill="#ff8000"/>
<rect x="244" y="312" width="6" height="1" fill="#ff8000"/>
<rect x="249" y="312" width="1" height="2" fill="#ff8000"/>
<rect x="249" y="313" width="6" height="1" fill="#ff8000"/>
<rect x="274" y="308" width="12" height="1" fill="#ff8000"/>
<rect x="294" y="307" width="16" height="2" fill="#ff8000"/>
<rect x="218" y="303" width="25" height="19" fill="#fff" stroke="#ff8000" stroke-width="2"/>
<rect x="285.5" y="304.5" width="8" height="8" fill="#ffffd8" stroke="#3e3e2a" stroke-width="1"/><rect x="287" y="306" width="2" height="5" fill="#ff8000"/><rect x="288" y="307" width="1" height="3" fill="#ffffd8"/><rect x="290" y="306" width="2" height="5" fill="#ff8000"/><rect x="290" y="307" width="1" height="3" fill="#ffffd8"/>
<rect x="309.5" y="304.5" width="8" height="8" fill="#ffffd8" stroke="#3e3e2a" stroke-width="1"/><rect x="311" y="306" width="2" height="5" fill="#ff8000"/><rect x="312" y="307" width="1" height="3" fill="#ffffd8"/><rect x="314" y="306" width="2" height="5" fill="#ff8000"/><rect x="314" y="307" width="1" height="3" fill="#ffffd8"/>
</g>
<g font-family="Liberation Sans, sans-serif" fill="#0000ff" stroke="#0000ff" stroke-width=".55">
<text x="138.6" y="237.400" font-size="12.5" textLength="8.800" lengthAdjust="spacingAndGlyphs">N</text>
<text x="193.6" y="275.400" font-size="12.5" textLength="8.800" lengthAdjust="spacingAndGlyphs">N</text>
</g>
<g fill="#0000ff">
<rect x="143" y="352" width="2.200" height="1.500"/><rect x="143" y="354.4" width="2.200" height="6.800" rx=".6"/>
<rect x="198" y="337" width="2.200" height="1.500"/><rect x="198" y="339.4" width="2.200" height="6.800" rx=".6"/>
</g>
<g font-family="Liberation Sans, sans-serif" fill="#000">
<text x="111.5" y="239.2" font-size="14.5" textLength="9" lengthAdjust="spacingAndGlyphs">3</text>
<text x="166.5" y="277.2" font-size="14.5" textLength="9" lengthAdjust="spacingAndGlyphs">3</text>
</g>
<text x="221.8" y="317.7" font-family="'Liberation Serif',serif" font-size="14.5" fill="#000" textLength="17.6" lengthAdjust="spacingAndGlyphs">10</text>
<g stroke="#3e3e2a" stroke-width="1" fill="#f8f5c8" stroke-linejoin="round">
<path d="M217.5 283.5l3.5-4h12v11l-3.500 4h-12z"/>
<path d="M217.500 283.500h12v11M229.500 283.500l3.500-4" fill="none"/>
<path d="M221.500 289.500l3-4h11.500v10.500l-3.300 3.500h-11.200z"/>
<path d="M221.500 289.500h11.200v10M232.700 289.500l3.300-4" fill="none"/>
</g>
<g fill="#333">
<rect x="224.5" y="296" width="1.500" height="1.500"/>
<rect x="227.5" y="293.3" width="1.500" height="1.500"/>
<rect x="220" y="286.3" width="1.500" height="1.500"/>
<rect x="234" y="291.5" width="1.500" height="1.500"/>
<rect x="223.500" y="281" width="2" height="1"/><rect x="227" y="281" width="2" height="1"/>
<rect x="227" y="287" width="2" height="1"/><rect x="230.500" y="287" width="2" height="1"/>
</g>
<path d="M254.500 298.500v20l20-10z" fill="#fbf8c8" stroke="#3e3e2a" stroke-width="1"/>
<path d="M258.800 306.500l4.400 4.400M263.200 306.500l-4.400 4.400" stroke="#333" stroke-width="1.200" fill="none"/>
<g shape-rendering="crispEdges"><rect x="91.5" y="414.5" width="280" height="18" fill="#ffffd9" stroke="#000" stroke-width="1"/></g>
<text x="94.7" y="429.2" font-family="'Liberation Serif','Noto Serif CJK SC',serif" font-size="14.4" fill="#000" textLength="273" lengthAdjust="spacingAndGlyphs">运用For循环创建3×3的0~10随机数数组</text>
<line x1="231.5" y1="414" x2="236.454" y2="364.458" stroke="#000" stroke-width="1.9"/><path d="M237.30 356.00L239.79 367.30L236.45 364.46L232.62 366.59Z" fill="#000"/>
<g shape-rendering="crispEdges"><rect x="326.5" y="247.5" width="66" height="18" fill="#ffffd9" stroke="#000" stroke-width="1"/></g><text x="329.6" y="262.1" font-family="'Liberation Serif','Noto Serif CJK SC',serif" font-size="14.4" fill="#000" textLength="59.2" lengthAdjust="spacingAndGlyphs">格式字符</text>
<line x1="377" y1="266" x2="399.009" y2="278.742" stroke="#000" stroke-width="1.9"/><path d="M405.50 282.50L395.04 280.61L399.01 278.74L398.65 274.37Z" fill="#000"/>
<g shape-rendering="crispEdges"><rect x="414.5" y="221.5" width="51" height="18" fill="#ffffd9" stroke="#000" stroke-width="1"/></g><text x="417.6" y="236.1" font-family="'Liberation Serif','Noto Serif CJK SC',serif" font-size="14.4" fill="#000" textLength="44.3" lengthAdjust="spacingAndGlyphs">分隔符</text>
<line x1="439.6" y1="232" x2="439.6" y2="238.8" stroke="#000" stroke-width="1.8"/><path d="M439.60 247.80L435.80 235.80L439.60 238.80L443.40 235.80Z" fill="#000"/>
<g shape-rendering="crispEdges"><rect x="386.5" y="342.5" width="171" height="18" fill="#ffffd9" stroke="#000" stroke-width="1"/></g><text x="389.6" y="357.1" font-family="'Liberation Serif','Noto Serif CJK SC',serif" font-size="14.4" fill="#000" textLength="163.5" lengthAdjust="spacingAndGlyphs">将数组转换至表格字符串</text>
<line x1="471.2" y1="342" x2="470.686" y2="326.695" stroke="#000" stroke-width="1.9"/><path d="M470.40 318.20L474.37 329.07L470.69 326.70L467.17 329.31Z" fill="#000"/>
<g shape-rendering="crispEdges"><rect x="645.5" y="222.5" width="51" height="18" fill="#ffffd9" stroke="#000" stroke-width="1"/></g><text x="648.6" y="237.1" font-family="'Liberation Serif','Noto Serif CJK SC',serif" font-size="14.4" fill="#000" textLength="44.3" lengthAdjust="spacingAndGlyphs">分隔符</text>
<line x1="672.2" y1="233" x2="672.2" y2="241.8" stroke="#000" stroke-width="1.8"/><path d="M672.20 250.80L668.40 238.80L672.20 241.80L676.00 238.80Z" fill="#000"/>
<g shape-rendering="crispEdges"><rect x="579.5" y="308.5" width="66" height="18" fill="#ffffd9" stroke="#000" stroke-width="1"/></g><text x="582.6" y="323.1" font-family="'Liberation Serif','Noto Serif CJK SC',serif" font-size="14.4" fill="#000" textLength="59.2" lengthAdjust="spacingAndGlyphs">格式字符</text>
<line x1="630" y1="308" x2="644.204" y2="301.372" stroke="#000" stroke-width="1.9"/><path d="M651.00 298.20L643.46 305.69L644.20 301.37L640.42 299.17Z" fill="#000"/>
<g shape-rendering="crispEdges"><rect x="620.5" y="385.5" width="171" height="18" fill="#ffffd9" stroke="#000" stroke-width="1"/></g><text x="623.6" y="400.1" font-family="'Liberation Serif','Noto Serif CJK SC',serif" font-size="14.4" fill="#000" textLength="163.5" lengthAdjust="spacingAndGlyphs">将表格字符串转换至数组</text>
<line x1="705.6" y1="385" x2="705.077" y2="327" stroke="#000" stroke-width="1.9"/><path d="M705.00 318.50L708.70 329.47L705.08 327.00L701.50 329.53Z" fill="#000"/>
<text x="455.5" y="282.1" font-family="'Liberation Serif','Noto Serif CJK SC',serif" font-size="14.4" fill="#000" textLength="178.4" lengthAdjust="spacingAndGlyphs">数组至电子表格字符串转换</text>
<text x="690.8" y="282.1" font-family="'Liberation Serif','Noto Serif CJK SC',serif" font-size="14.4" fill="#000" textLength="178.4" lengthAdjust="spacingAndGlyphs">电子表格字符串至数组转换</text>
<text x="545.6" y="205.4" font-family="'Liberation Serif','Noto Serif CJK SC',serif" font-size="14.4" fill="#000" textLength="103.9" lengthAdjust="spacingAndGlyphs">电子表格字符串</text>
<text x="829.3" y="316.4" font-family="'Liberation Serif','Noto Serif CJK SC',serif" font-size="14.4" fill="#000" textLength="29.4" lengthAdjust="spacingAndGlyphs">数组</text>
<g shape-rendering="crispEdges"><rect x="430" y="249" width="18" height="19" fill="#fff" stroke="#ff00ff" stroke-width="2"/><rect x="429" y="248" width="4" height="21" fill="#ff00ff"/></g>
<line x1="436.6" y1="266.2" x2="442.4" y2="252.6" stroke="#000" stroke-width="1.1"/>
<g shape-rendering="crispEdges"><rect x="404" y="284" width="41" height="19" fill="#fff" stroke="#ff00ff" stroke-width="2"/><rect x="403" y="283" width="4" height="21" fill="#ff00ff"/></g>
<text x="409.2" y="298.8" font-family="'Liberation Serif',serif" font-size="14.4" fill="#000" textLength="32" lengthAdjust="spacingAndGlyphs">%.3f</text>
<g shape-rendering="crispEdges"><rect x="664" y="252" width="18" height="19" fill="#fff" stroke="#ff00ff" stroke-width="2"/><rect x="663" y="251" width="4" height="21" fill="#ff00ff"/></g>
<line x1="670.6" y1="269.2" x2="676.4" y2="255.6" stroke="#000" stroke-width="1.1"/>
<g shape-rendering="crispEdges"><rect x="652" y="281" width="27" height="19" fill="#fff" stroke="#ff00ff" stroke-width="2"/><rect x="651" y="280" width="4" height="21" fill="#ff00ff"/></g>
<text x="656.9" y="295.8" font-family="'Liberation Serif',serif" font-size="14.4" fill="#000" textLength="19" lengthAdjust="spacingAndGlyphs">%f</text>
<g shape-rendering="crispEdges">
<rect x="454.5" y="285.5" width="31" height="31" fill="#fcfac8" stroke="#3e3e2a" stroke-width="1"/>
<rect x="456.5" y="288.5" width="17" height="7" fill="#fff" stroke="#3e3e2a" stroke-width="1"/><rect x="457" y="289" width="1" height="1" fill="#8a8a74"/><rect x="459" y="289" width="1" height="1" fill="#8a8a74"/><rect x="461" y="289" width="1" height="1" fill="#8a8a74"/><rect x="463" y="289" width="1" height="1" fill="#8a8a74"/><rect x="465" y="289" width="1" height="1" fill="#8a8a74"/><rect x="467" y="289" width="1" height="1" fill="#8a8a74"/><rect x="469" y="289" width="1" height="1" fill="#8a8a74"/><rect x="471" y="289" width="1" height="1" fill="#8a8a74"/><rect x="458" y="290" width="1" height="1" fill="#8a8a74"/><rect x="460" y="290" width="1" height="1" fill="#8a8a74"/><rect x="462" y="290" width="1" height="1" fill="#8a8a74"/><rect x="464" y="290" width="1" height="1" fill="#8a8a74"/><rect x="466" y="290" width="1" height="1" fill="#8a8a74"/><rect x="468" y="290" width="1" height="1" fill="#8a8a74"/><rect x="470" y="290" width="1" height="1" fill="#8a8a74"/><rect x="472" y="290" width="1" height="1" fill="#8a8a74"/><rect x="457" y="291" width="1" height="1" fill="#8a8a74"/><rect x="459" y="291" width="1" height="1" fill="#8a8a74"/><rect x="461" y="291" width="1" height="1" fill="#8a8a74"/><rect x="463" y="291" width="1" height="1" fill="#8a8a74"/><rect x="465" y="291" width="1" height="1" fill="#8a8a74"/><rect x="467" y="291" width="1" height="1" fill="#8a8a74"/><rect x="469" y="291" width="1" height="1" fill="#8a8a74"/><rect x="471" y="291" width="1" height="1" fill="#8a8a74"/><rect x="458" y="292" width="1" height="1" fill="#8a8a74"/><rect x="460" y="292" width="1" height="1" fill="#8a8a74"/><rect x="462" y="292" width="1" height="1" fill="#8a8a74"/><rect x="464" y="292" width="1" height="1" fill="#8a8a74"/><rect x="466" y="292" width="1" height="1" fill="#8a8a74"/><rect x="468" y="292" width="1" height="1" fill="#8a8a74"/><rect x="470" y="292" width="1" height="1" fill="#8a8a74"/><rect x="472" y="292" width="1" height="1" fill="#8a8a74"/><rect x="457" y="293" width="1" height="1" fill="#8a8a74"/><rect x="459" y="293" width="1" height="1" fill="#8a8a74"/><rect x="461" y="293" width="1" height="1" fill="#8a8a74"/><rect x="463" y="293" width="1" height="1" fill="#8a8a74"/><rect x="465" y="293" width="1" height="1" fill="#8a8a74"/><rect x="467" y="293" width="1" height="1" fill="#8a8a74"/><rect x="469" y="293" width="1" height="1" fill="#8a8a74"/><rect x="471" y="293" width="1" height="1" fill="#8a8a74"/><rect x="458" y="294" width="1" height="1" fill="#8a8a74"/><rect x="460" y="294" width="1" height="1" fill="#8a8a74"/><rect x="462" y="294" width="1" height="1" fill="#8a8a74"/><rect x="464" y="294" width="1" height="1" fill="#8a8a74"/><rect x="466" y="294" width="1" height="1" fill="#8a8a74"/><rect x="468" y="294" width="1" height="1" fill="#8a8a74"/><rect x="470" y="294" width="1" height="1" fill="#8a8a74"/><rect x="472" y="294" width="1" height="1" fill="#8a8a74"/><rect x="460" y="289" width="8" height="6" fill="#f8f6d4" opacity=".800"/><rect x="468" y="290" width="2" height="2" fill="#222"/></g><g fill="none" stroke="#333" stroke-width=".9"><line x1="462" y1="294.6" x2="466" y2="289.4" stroke="#333" stroke-width="0.9"/><circle cx="462.2" cy="290.8" r="1.050"/><circle cx="465.8" cy="293.2" r="1.050"/></g><g shape-rendering="crispEdges">
<rect x="457" y="298" width="1" height="17" fill="#3e3e2a"/><rect x="461" y="298" width="1" height="17" fill="#3e3e2a"/><rect x="465" y="298" width="1" height="17" fill="#3e3e2a"/><rect x="457" y="298" width="9" height="1" fill="#3e3e2a"/><rect x="457" y="302" width="9" height="1" fill="#3e3e2a"/><rect x="457" y="306" width="9" height="1" fill="#3e3e2a"/><rect x="457" y="310" width="9" height="1" fill="#3e3e2a"/><rect x="457" y="314" width="9" height="1" fill="#3e3e2a"/>
<rect x="468" y="304" width="5" height="1" fill="#3e3e2a"/>
<rect x="471" y="303" width="1" height="3" fill="#3e3e2a"/><rect x="470" y="302" width="1" height="5" fill="#3e3e2a"/>
<rect x="475" y="294" width="11" height="1" fill="#3e3e2a"/><rect x="475" y="294" width="1" height="19" fill="#3e3e2a"/><rect x="475" y="310" width="11" height="1" fill="#3e3e2a"/>
<rect x="478" y="298" width="3" height="1" fill="#3e3e2a"/><rect x="479" y="297" width="1" height="3" fill="#3e3e2a"/><rect x="482" y="298" width="3" height="1" fill="#3e3e2a"/><rect x="483" y="297" width="1" height="3" fill="#3e3e2a"/>
<rect x="476" y="298" width="1" height="1" fill="#3e3e2a"/>
<rect x="478" y="302" width="3" height="1" fill="#3e3e2a"/><rect x="479" y="301" width="1" height="3" fill="#3e3e2a"/><rect x="482" y="302" width="3" height="1" fill="#3e3e2a"/><rect x="483" y="301" width="1" height="3" fill="#3e3e2a"/>
<rect x="476" y="302" width="1" height="1" fill="#3e3e2a"/>
<rect x="478" y="306" width="3" height="1" fill="#3e3e2a"/><rect x="479" y="305" width="1" height="3" fill="#3e3e2a"/><rect x="482" y="306" width="3" height="1" fill="#3e3e2a"/><rect x="483" y="305" width="1" height="3" fill="#3e3e2a"/>
<rect x="476" y="306" width="1" height="1" fill="#3e3e2a"/>
<rect x="479" y="295" width="1" height="1" fill="#3e3e2a"/><rect x="479" y="309" width="1" height="1" fill="#3e3e2a"/><rect x="479" y="311" width="1" height="1" fill="#3e3e2a"/>
<rect x="483" y="295" width="1" height="1" fill="#3e3e2a"/><rect x="483" y="309" width="1" height="1" fill="#3e3e2a"/><rect x="483" y="311" width="1" height="1" fill="#3e3e2a"/>
<rect x="688.5" y="285.5" width="31" height="31" fill="#fcfac8" stroke="#3e3e2a" stroke-width="1"/>
<rect x="690.5" y="287.5" width="17" height="7" fill="#fff" stroke="#3e3e2a" stroke-width="1"/><rect x="691" y="288" width="1" height="1" fill="#8a8a74"/><rect x="693" y="288" width="1" height="1" fill="#8a8a74"/><rect x="695" y="288" width="1" height="1" fill="#8a8a74"/><rect x="697" y="288" width="1" height="1" fill="#8a8a74"/><rect x="699" y="288" width="1" height="1" fill="#8a8a74"/><rect x="701" y="288" width="1" height="1" fill="#8a8a74"/><rect x="703" y="288" width="1" height="1" fill="#8a8a74"/><rect x="705" y="288" width="1" height="1" fill="#8a8a74"/><rect x="692" y="289" width="1" height="1" fill="#8a8a74"/><rect x="694" y="289" width="1" height="1" fill="#8a8a74"/><rect x="696" y="289" width="1" height="1" fill="#8a8a74"/><rect x="698" y="289" width="1" height="1" fill="#8a8a74"/><rect x="700" y="289" width="1" height="1" fill="#8a8a74"/><rect x="702" y="289" width="1" height="1" fill="#8a8a74"/><rect x="704" y="289" width="1" height="1" fill="#8a8a74"/><rect x="706" y="289" width="1" height="1" fill="#8a8a74"/><rect x="691" y="290" width="1" height="1" fill="#8a8a74"/><rect x="693" y="290" width="1" height="1" fill="#8a8a74"/><rect x="695" y="290" width="1" height="1" fill="#8a8a74"/><rect x="697" y="290" width="1" height="1" fill="#8a8a74"/><rect x="699" y="290" width="1" height="1" fill="#8a8a74"/><rect x="701" y="290" width="1" height="1" fill="#8a8a74"/><rect x="703" y="290" width="1" height="1" fill="#8a8a74"/><rect x="705" y="290" width="1" height="1" fill="#8a8a74"/><rect x="692" y="291" width="1" height="1" fill="#8a8a74"/><rect x="694" y="291" width="1" height="1" fill="#8a8a74"/><rect x="696" y="291" width="1" height="1" fill="#8a8a74"/><rect x="698" y="291" width="1" height="1" fill="#8a8a74"/><rect x="700" y="291" width="1" height="1" fill="#8a8a74"/><rect x="702" y="291" width="1" height="1" fill="#8a8a74"/><rect x="704" y="291" width="1" height="1" fill="#8a8a74"/><rect x="706" y="291" width="1" height="1" fill="#8a8a74"/><rect x="691" y="292" width="1" height="1" fill="#8a8a74"/><rect x="693" y="292" width="1" height="1" fill="#8a8a74"/><rect x="695" y="292" width="1" height="1" fill="#8a8a74"/><rect x="697" y="292" width="1" height="1" fill="#8a8a74"/><rect x="699" y="292" width="1" height="1" fill="#8a8a74"/><rect x="701" y="292" width="1" height="1" fill="#8a8a74"/><rect x="703" y="292" width="1" height="1" fill="#8a8a74"/><rect x="705" y="292" width="1" height="1" fill="#8a8a74"/><rect x="692" y="293" width="1" height="1" fill="#8a8a74"/><rect x="694" y="293" width="1" height="1" fill="#8a8a74"/><rect x="696" y="293" width="1" height="1" fill="#8a8a74"/><rect x="698" y="293" width="1" height="1" fill="#8a8a74"/><rect x="700" y="293" width="1" height="1" fill="#8a8a74"/><rect x="702" y="293" width="1" height="1" fill="#8a8a74"/><rect x="704" y="293" width="1" height="1" fill="#8a8a74"/><rect x="706" y="293" width="1" height="1" fill="#8a8a74"/><rect x="694" y="288" width="8" height="6" fill="#f8f6d4" opacity=".800"/><rect x="702" y="289" width="2" height="2" fill="#222"/></g><g fill="none" stroke="#333" stroke-width=".9"><line x1="696" y1="293.6" x2="700" y2="288.4" stroke="#333" stroke-width="0.9"/><circle cx="696.2" cy="289.8" r="1.050"/><circle cx="699.8" cy="292.2" r="1.050"/></g><g shape-rendering="crispEdges">
<rect x="709" y="293" width="1" height="17" fill="#3e3e2a"/><rect x="713" y="293" width="1" height="17" fill="#3e3e2a"/><rect x="717" y="293" width="1" height="17" fill="#3e3e2a"/><rect x="709" y="293" width="9" height="1" fill="#3e3e2a"/><rect x="709" y="297" width="9" height="1" fill="#3e3e2a"/><rect x="709" y="301" width="9" height="1" fill="#3e3e2a"/><rect x="709" y="305" width="9" height="1" fill="#3e3e2a"/><rect x="709" y="309" width="9" height="1" fill="#3e3e2a"/>
<rect x="701" y="301" width="5" height="1" fill="#3e3e2a"/>
<rect x="704" y="300" width="1" height="3" fill="#3e3e2a"/><rect x="703" y="299" width="1" height="5" fill="#3e3e2a"/>
<rect x="698" y="296" width="1" height="13" fill="#3e3e2a"/>
<rect x="689" y="297" width="3" height="1" fill="#3e3e2a"/><rect x="690" y="296" width="1" height="3" fill="#3e3e2a"/><rect x="693" y="297" width="3" height="1" fill="#3e3e2a"/><rect x="694" y="296" width="1" height="3" fill="#3e3e2a"/>
<rect x="697" y="297" width="1" height="1" fill="#3e3e2a"/>
<rect x="689" y="301" width="3" height="1" fill="#3e3e2a"/><rect x="690" y="300" width="1" height="3" fill="#3e3e2a"/><rect x="693" y="301" width="3" height="1" fill="#3e3e2a"/><rect x="694" y="300" width="1" height="3" fill="#3e3e2a"/>
<rect x="697" y="301" width="1" height="1" fill="#3e3e2a"/>
<rect x="689" y="305" width="3" height="1" fill="#3e3e2a"/><rect x="690" y="304" width="1" height="3" fill="#3e3e2a"/><rect x="693" y="305" width="3" height="1" fill="#3e3e2a"/><rect x="694" y="304" width="1" height="3" fill="#3e3e2a"/>
<rect x="697" y="305" width="1" height="1" fill="#3e3e2a"/>
<rect x="689" y="309" width="1" height="1" fill="#3e3e2a"/>
<rect x="691.5" y="309.5" width="5" height="5" fill="#fcfac8" stroke="#3e3e2a" stroke-width="1"/>
<rect x="693" y="311" width="2" height="2" fill="#3e3e2a"/>
</g>
<g shape-rendering="crispEdges">
<rect x="543.5" y="209.5" width="37" height="37" fill="#fff" stroke="#ff00ff" stroke-width="1"/>
<rect x="546.5" y="212.5" width="31" height="31" fill="#dedede" stroke="#ff00ff" stroke-width="1"/>
<rect x="549" y="222" width="26" height="11" fill="#c6c6c6"/>
<rect x="549" y="222" width="26" height="1" fill="#8c8c8c"/><rect x="549" y="222" width="1" height="11" fill="#8c8c8c"/>
<rect x="549" y="232" width="26" height="1" fill="#ececec"/><rect x="574" y="222" width="1" height="11" fill="#ececec"/>
<rect x="554" y="238" width="16" height="9" fill="#fff"/>
<rect x="554" y="238" width="16" height="1" fill="#ff00ff"/><rect x="554" y="238" width="1" height="9" fill="#ff00ff"/><rect x="569" y="238" width="1" height="9" fill="#ff00ff"/>
</g>
<path d="M545.500 224.500v8l4-4z" fill="#fff" stroke="#000" stroke-width="1"/>
<text x="552.500" y="231.300" font-family="Liberation Sans, sans-serif" font-size="9.500" fill="#000" stroke="#000" stroke-width=".25" textLength="15" lengthAdjust="spacingAndGlyphs">abc</text>
<text x="555.800" y="246.200" font-family="Liberation Sans, sans-serif" font-size="8.500" font-weight="bold" fill="#ff00ff" textLength="12.500" lengthAdjust="spacingAndGlyphs">abc</text>
<g shape-rendering="crispEdges">
<rect x="828.5" y="320.5" width="37" height="37" fill="#fff" stroke="#ff8000" stroke-width="1"/>
<rect x="831.5" y="323.5" width="31" height="31" fill="#dedede" stroke="#ff8000" stroke-width="1"/>
<rect x="833.5" y="325.5" width="8" height="24" fill="#dedede" stroke="#000" stroke-width="1"/>
<rect x="833" y="333" width="9" height="1" fill="#000"/><rect x="833" y="341" width="9" height="1" fill="#000"/>
<rect x="843" y="325" width="19" height="10" fill="#c6c6c6"/>
<rect x="843" y="325" width="19" height="1" fill="#555"/><rect x="843" y="325" width="1" height="10" fill="#555"/><rect x="843" y="334" width="19" height="1" fill="#8c8c8c"/>
<rect x="840" y="349" width="15" height="9" fill="#fff"/>
<rect x="840" y="349" width="15" height="1" fill="#ff8000"/><rect x="840" y="349" width="1" height="9" fill="#ff8000"/><rect x="854" y="349" width="1" height="9" fill="#ff8000"/>
</g>
<path d="M830.500 335.500v8l4-4z" fill="#fff" stroke="#000" stroke-width="1"/>
<g font-family="Liberation Sans, sans-serif" font-weight="bold" fill="#000" font-size="8">
<rect x="836.800" y="327" width="1.500" height="1.300"/><rect x="836.800" y="329" width="1.500" height="3.500"/>
<rect x="837.500" y="334.600" width="1.500" height="1.300"/><path d="M838.250 336.500v3.500q0 1.300-2 1.200" fill="none" stroke="#000" stroke-width="1.400"/>
<text x="835.400" y="348.300">k</text>
<text x="845.500" y="332.800" font-size="8" textLength="14" lengthAdjust="spacingAndGlyphs">123</text>
</g>
<text x="841.800" y="357.200" font-family="Liberation Sans, sans-serif" font-size="7.800" font-weight="bold" fill="#ff8000" textLength="12" lengthAdjust="spacingAndGlyphs">DBL</text>
<g fill="none" stroke="#505050" stroke-width="1.800">
<path d="M1081.200 87.500l3.500-3.500 3.500 3.500"/>
<path d="M1081.200 669.500l3.500 3.500 3.500-3.500"/>
<path d="M13.800 686.300l-3.500 3.500 3.500 3.500"/>
<path d="M1067 686.300l3.500 3.500-3.500 3.500"/>
</g>
<g fill="#b4b4b4">
<rect x="1089.5" y="689" width="1.800" height="1.800"/>
<rect x="1086.2" y="692.2" width="1.800" height="1.800"/>
<rect x="1089.5" y="692.2" width="1.800" height="1.800"/>
<rect x="1083" y="695.4" width="1.800" height="1.800"/>
<rect x="1086.2" y="695.4" width="1.800" height="1.800"/>
<rect x="1089.5" y="695.4" width="1.800" height="1.800"/>
</g>
<rect x="1084" y="699" width="4" height="3" fill="#c000c0"/>
<rect x="1046" y="699" width="5" height="3" fill="#303030"/>
<rect x="1047.5" y="700" width="2" height="2" fill="#c8c8c8"/>
<rect x="0" y="434" width="1.5" height="2" fill="#b000b0"/><rect x="0" y="445" width="1.5" height="2" fill="#b000b0"/>
<rect x="0" y="484" width="1.5" height="6" fill="#202020"/>
<rect x="0" y="503" width="1.5" height="18" fill="#50a0b0"/><rect x="0" y="506" width="1.5" height="3" fill="#c07030"/><rect x="0" y="512" width="1.5" height="1.5" fill="#202020"/><rect x="0" y="518" width="1.5" height="1.5" fill="#202020"/>
</svg>
</body></html>
